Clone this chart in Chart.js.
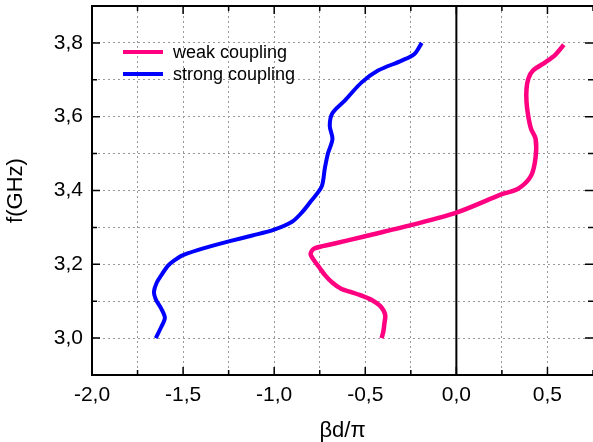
<!DOCTYPE html>
<html>
<head>
<meta charset="utf-8">
<script src="https://cdn.jsdelivr.net/npm/chart.js@4.4.0/dist/chart.umd.min.js"></script>
<style>
  html, body { margin: 0; padding: 0; background: #fff; }
  #wrap { width: 593px; height: 442px; }
</style>
</head>
<body>
<div id="wrap"><canvas id="dispersionChart" width="593" height="442"></canvas></div>
<script>
// weak coupling: normalized phase (βd/π) vs frequency (GHz)
const weakBeta = [-0.41, -0.40, -0.395, -0.39, -0.40, -0.42, -0.46, -0.52, -0.58, -0.63, -0.68, -0.72, -0.75, -0.78, -0.80, -0.78, -0.68, -0.50, -0.25, 0.00, 0.25, 0.34, 0.41, 0.435, 0.435, 0.41, 0.395, 0.385, 0.385, 0.395, 0.42, 0.49, 0.54, 0.59];
const weakFreq = [3.00, 3.02, 3.04, 3.06, 3.075, 3.088, 3.102, 3.115, 3.125, 3.133, 3.15, 3.17, 3.19, 3.21, 3.228, 3.243, 3.255, 3.276, 3.306, 3.34, 3.39, 3.405, 3.44, 3.49, 3.54, 3.567, 3.60, 3.64, 3.675, 3.703, 3.725, 3.748, 3.766, 3.795];

// strong coupling
const strongBeta = [-1.65, -1.62, -1.60, -1.62, -1.65, -1.66, -1.645, -1.62, -1.585, -1.55, -1.50, -1.37, -1.25, -1.12, -1.00, -0.90, -0.845, -0.80, -0.74, -0.722, -0.705, -0.68, -0.695, -0.68, -0.61, -0.52, -0.43, -0.30, -0.23, -0.19];
const strongFreq = [3.00, 3.03, 3.055, 3.08, 3.105, 3.125, 3.15, 3.17, 3.195, 3.21, 3.225, 3.246, 3.262, 3.278, 3.294, 3.316, 3.342, 3.37, 3.41, 3.46, 3.50, 3.54, 3.575, 3.61, 3.645, 3.693, 3.725, 3.752, 3.77, 3.80];

// labelled ticks
const xTickLabels = [-2.0, -1.5, -1.0, -0.5, 0.0, 0.5];
const yTickLabels = [3.0, 3.2, 3.4, 3.6, 3.8];

const seriesNames = ["weak coupling", "strong coupling"];
const seriesColors = ["#ff0080", "#0000ff"];

const FONT = "'Liberation Sans', Arial, sans-serif";

function toPoints(xs, ys) {
  return xs.map((x, i) => ({ x: x, y: ys[i] }));
}

function isMajor(v, list) {
  return list.some((t) => Math.abs(t - v) < 1e-6);
}

function commaLabel(v, list) {
  if (!isMajor(v, list)) return "";
  return v.toFixed(1).replace(".", ",").replace("-0,0", "0,0");
}

// frame: zero line, top border, inward ticks on all four sides, legend
const framePlugin = {
  id: "frame",
  beforeDatasetsDraw(chart) {
    const { ctx, chartArea, scales } = chart;
    const x0 = scales.x.getPixelForValue(0);
    ctx.save();
    ctx.strokeStyle = "#000";
    ctx.lineWidth = 2;
    ctx.beginPath();
    ctx.moveTo(x0, chartArea.top);
    ctx.lineTo(x0, chartArea.bottom);
    ctx.stroke();
    ctx.restore();
  },
  afterDraw(chart) {
    const { ctx, chartArea, scales } = chart;
    const { left, right, top, bottom } = chartArea;
    ctx.save();
    ctx.strokeStyle = "#000";
    ctx.lineWidth = 2;
    ctx.beginPath();
    ctx.moveTo(left, top);
    ctx.lineTo(right, top);
    ctx.stroke();

    ctx.lineWidth = 1.5;
    scales.x.ticks.forEach((t) => {
      const px = scales.x.getPixelForValue(t.value);
      const len = isMajor(t.value, xTickLabels) ? 8 : 5;
      ctx.beginPath();
      ctx.moveTo(px, top);
      ctx.lineTo(px, top + len);
      ctx.moveTo(px, bottom);
      ctx.lineTo(px, bottom - len);
      ctx.stroke();
    });
    scales.y.ticks.forEach((t) => {
      const py = scales.y.getPixelForValue(t.value);
      const len = isMajor(t.value, yTickLabels) ? 8 : 5;
      ctx.beginPath();
      ctx.moveTo(left, py);
      ctx.lineTo(left + len, py);
      ctx.moveTo(right, py);
      ctx.lineTo(right - len, py);
      ctx.stroke();
    });

    // legend
    ctx.font = "18px " + FONT;
    ctx.textBaseline = "middle";
    ctx.fillStyle = "#000";
    seriesNames.forEach((name, i) => {
      const y = 52 + i * 22;
      ctx.strokeStyle = seriesColors[i];
      ctx.lineWidth = 4;
      ctx.beginPath();
      ctx.moveTo(123, y);
      ctx.lineTo(163, y);
      ctx.stroke();
      ctx.fillText(name, 173, y + 1);
    });
    ctx.restore();
  },
};

const tickFont = { family: FONT, size: 21 };
const titleFont = { family: FONT, size: 22, lineHeight: 1.05 };

new Chart(document.getElementById("dispersionChart"), {
  type: "scatter",
  data: {
    datasets: [
      {
        label: seriesNames[0],
        data: toPoints(weakBeta, weakFreq),
        showLine: true,
        borderColor: seriesColors[0],
        borderWidth: 4.5,
        pointRadius: 0,
        tension: 0.3,
      },
      {
        label: seriesNames[1],
        data: toPoints(strongBeta, strongFreq),
        showLine: true,
        borderColor: seriesColors[1],
        borderWidth: 4,
        pointRadius: 0,
        tension: 0.3,
      },
    ],
  },
  options: {
    responsive: false,
    animation: false,
    layout: { padding: { top: 6, right: 0, left: 0, bottom: 0 } },
    plugins: {
      legend: { display: false },
      tooltip: { enabled: false },
    },
    scales: {
      x: {
        type: "linear",
        min: -2,
        max: 0.75,
        afterFit(scale) {
          scale.height = 67;
          scale.paddingLeft = 0;
          scale.paddingRight = 0;
        },
        ticks: {
          stepSize: 0.25,
          autoSkip: false,
          maxRotation: 0,
          color: "#000",
          font: tickFont,
          padding: 8,
          callback: (v) => commaLabel(v, xTickLabels),
        },
        grid: { color: "#999", lineWidth: 1, drawTicks: false },
        border: { display: true, color: "#000", width: 2, dash: [2, 3] },
        title: {
          display: true,
          text: "βd/π",
          color: "#000",
          font: titleFont,
          padding: { top: 0, bottom: 0 },
        },
      },
      y: {
        type: "linear",
        min: 2.9,
        max: 3.9,
        afterFit(scale) {
          scale.width = 92;
          scale.paddingTop = 0;
          scale.paddingBottom = 0;
        },
        ticks: {
          stepSize: 0.1,
          autoSkip: false,
          color: "#000",
          font: tickFont,
          padding: 9,
          callback: (v) => commaLabel(v, yTickLabels),
        },
        grid: { color: "#999", lineWidth: 1, drawTicks: false },
        border: { display: true, color: "#000", width: 2, dash: [2, 3] },
        title: {
          display: true,
          text: "f(GHz)",
          color: "#000",
          font: titleFont,
          padding: { top: 4, bottom: 0 },
        },
      },
    },
  },
  plugins: [framePlugin],
});
</script>
</body>
</html>
